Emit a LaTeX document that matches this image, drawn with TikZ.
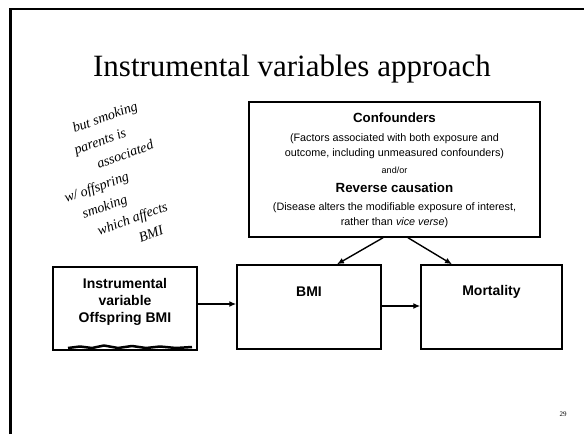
\documentclass[tikz,border=0pt]{standalone}
\usepackage{fontspec}
\setmainfont{Liberation Serif}
\newfontfamily\arialf{Liberation Sans}
\usetikzlibrary{arrows.meta}
\newcommand{\handln}[2]{\makebox[0pt][c]{\hspace*{#1pt}#2}}
\begin{document}
\begin{tikzpicture}[x=1pt,y=-1pt,
  box/.style={draw, line width=1.5pt, rectangle, inner sep=0pt},
  lbl/.style={font=\arialf\bfseries\fontsize{14}{14}\selectfont, inner sep=0pt, align=center},
  small/.style={font=\arialf\fontsize{10.8}{10.8}\selectfont, inner sep=0pt},
  head/.style={font=\arialf\bfseries\fontsize{13.3}{13.3}\selectfont, inner sep=0pt},
  arr/.style={-{Latex[length=7pt,width=6pt]}, line width=1.4pt},
  hand/.style={font=\itshape\fontsize{14}{21}\selectfont, inner sep=0pt, align=center}]
\useasboundingbox (0,0) rectangle (584,434);
\fill[white] (0,0) rectangle (584,434);
% slide frame
\draw[line width=3pt] (10,434) -- (10,9);
\draw[line width=2pt] (9,9) -- (584,9);
% title
\node[font=\fontsize{31}{31}\selectfont, inner sep=0pt, anchor=base] (title) at (292,76) {Instrumental variables approach};
% boxes
\node[box, minimum width=291pt, minimum height=135pt] (conf) at (394.5,169.5) {};
\node[box, minimum width=144pt, minimum height=83pt] (instr) at (125,308.5) {};
\node[box, minimum width=144pt, minimum height=84pt] (bmi) at (309,307) {};
\node[box, minimum width=141pt, minimum height=84pt] (mort) at (491.5,307) {};
% confounders text
\node[head] (t1) at (394.5,118) {Confounders};
\node[small] (t2) at (394.5,139) {(Factors associated with both exposure and};
\node[small] (t3) at (394.5,154) {outcome, including unmeasured confounders)};
\node[small, font=\arialf\fontsize{9}{9}\selectfont] (t4) at (394.5,170) {and/or};
\node[head] (t5) at (394.5,188) {Reverse causation};
\node[small] (t6) at (394.5,208) {(Disease alters the modifiable exposure of interest,};
\node[small] (t7) at (394.5,223) {rather than \textit{vice verse})};
% box labels
\node[lbl] (il) at (125,302) {Instrumental\\[3pt]variable\\[3pt]Offspring BMI};
\node[lbl] (bl) at (309,292) {BMI};
\node[lbl] (ml) at (491.5,292) {Mortality};
% arrows
\draw[arr] (instr.east |- 0,304) -- (bmi.west |- 0,304);
\draw[arr] (bmi.east |- 0,306) -- (mort.west |- 0,306);
\draw[arr] (conf.south -| 383,0) -- (bmi.north -| 337,0);
\draw[arr] (conf.south -| 408,0) -- (mort.north -| 452,0);
% handwritten note
\node[hand, rotate=20] (note) at (118,179)
  {\handln{18}{but smoking}\\
   \handln{-8}{parents is}\\
   \handln{30}{associated}\\
   \handln{-46}{w/ offspring}\\
   \handln{-44}{smoking}\\
   \handln{0}{which affects}\\
   \handln{24}{BMI}};
% scribble on the bottom edge of the instrument box
\draw[line width=2.5pt, line join=round] (68,348) -- (80,346.5) -- (92,348) -- (104,345.5) -- (118,348) -- (132,346) -- (146,348) -- (160,346.5) -- (176,348) -- (192,347);
\node[font=\fontsize{7}{7}\selectfont, inner sep=0pt] (pn) at (563,414) {29};
\end{tikzpicture}
\end{document}
